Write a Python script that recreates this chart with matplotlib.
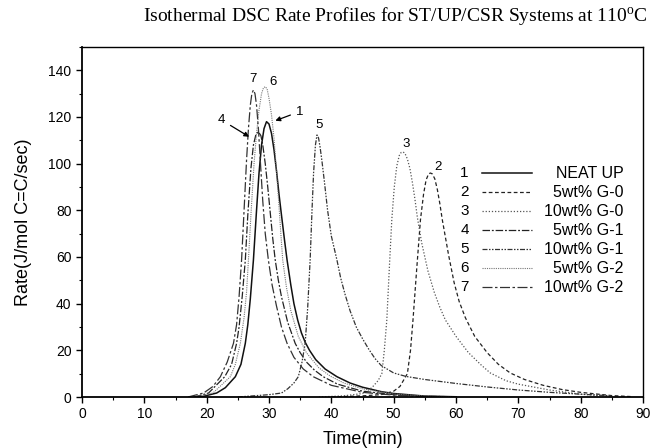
import numpy as np
import matplotlib.pyplot as plt

plt.rcParams['mathtext.fontset'] = 'custom'
plt.rcParams['mathtext.rm'] = 'Liberation Serif'

# isothermal DSC rate profiles, time (min) vs rate (J/mol C=C/sec)
t1 = [18, 19.5, 21.6, 23, 24.6, 25.5, 26.2, 26.6, 27.0, 27.5, 28.0, 28.4, 28.8, 29.2, 29.6, 30.0, 30.4, 30.8, 31.2, 31.6, 32.0, 32.5, 32.9, 33.5, 34.0, 34.6, 35.2, 35.8, 36.5, 37.5, 39, 40.9, 43, 45, 48, 50, 55, 60]
r1 = [0, 0.3, 1.7, 4, 8.7, 14, 23, 31, 42, 58.7, 80, 96, 108, 115, 118, 117, 113, 106, 97, 87, 78, 67, 58.7, 48, 40, 33, 27.5, 23.5, 20, 16, 12, 8.7, 6, 4.2, 2.3, 1.5, 0.4, 0.1]

t2 = [40, 45, 48, 50, 51, 52.2, 52.7, 53.1, 53.7, 54.3, 54.8, 55.2, 55.6, 55.9, 56.2, 56.6, 57.0, 57.4, 57.8, 58.8, 59.7, 60.5, 61.5, 63, 65, 66.8, 68.7, 71, 74, 77, 80, 85, 88]
r2 = [0, 0.5, 1, 2.5, 4.5, 10, 20, 33, 55, 76, 87, 93, 95.6, 96, 95.6, 93.5, 89, 83, 76, 61, 49, 41, 34, 26, 19, 14, 10.3, 7.5, 5, 3.2, 2, 0.6, 0.2]

t3 = [38, 42, 45, 46.5, 47.5, 48.1, 48.5, 48.9, 49.3, 49.7, 50.1, 50.5, 50.9, 51.2, 51.5, 51.8, 52.2, 52.6, 53.0, 53.4, 53.8, 54.5, 55.5, 56.5, 57.4, 58.3, 60, 62, 64, 65.5, 68, 70, 75, 80, 85]
r3 = [0, 0.5, 1.5, 4, 7, 10, 20, 33, 55, 76, 90, 99, 103.5, 104.8, 105, 104.5, 102, 98, 92, 85, 77, 66, 54, 45, 38.5, 33, 26, 19, 13.8, 10.3, 7, 5.5, 3, 1.2, 0.3]

t4 = [18, 20.3, 22.9, 24, 24.8, 25.2, 25.7, 26.2, 26.6, 27.1, 27.5, 27.9, 28.3, 28.7, 29.0, 29.4, 29.8, 30.2, 30.6, 31.0, 31.5, 32, 33, 34.2, 35, 36, 37.3, 38.7, 41, 45, 50, 55, 60]
r4 = [0, 1.7, 8.7, 14, 23, 30, 43, 58.7, 78, 98, 108, 112.5, 113.7, 112, 108, 100, 90, 79, 68, 58.7, 50, 43, 32, 23, 19, 15, 11.5, 8.7, 5.5, 2.5, 1, 0.3, 0.1]

t5 = [25, 30, 32, 33, 34, 34.7, 35.3, 35.8, 36.2, 36.6, 36.9, 37.15, 37.45, 37.7, 37.95, 38.2, 38.5, 38.9, 39.4, 40.0, 40.9, 41.5, 42.2, 43, 44, 45, 46, 47, 48, 50, 52, 55, 60, 65, 70, 75, 80, 85]
r5 = [0, 1, 1.7, 3.5, 6, 8.7, 15, 23, 38, 58.7, 80, 96, 108, 112.3, 111, 107, 101, 92, 80, 69, 58.7, 51, 44, 37, 30, 25, 20.5, 16.5, 13.5, 10.3, 8.8, 7.5, 5.8, 4.3, 3, 2, 1.2, 0.5]

t6 = [18, 21, 23.8, 24.6, 25.4, 26.0, 26.4, 26.7, 27.1, 27.6, 28.0, 28.4, 28.8, 29.1, 29.4, 29.7, 30.0, 30.4, 30.8, 31.2, 31.6, 31.9, 32.2, 32.8, 33.5, 34.7, 36, 38, 39.8, 42, 45, 50, 55, 60]
r6 = [0, 1.7, 8.7, 14, 23, 34, 45, 58.7, 78, 100, 113, 123, 130, 132.4, 133, 132, 128, 121, 111, 97, 82, 70, 58.7, 47, 37, 26, 19, 12.5, 9, 6, 3.5, 1.3, 0.4, 0.1]

t7 = [17, 19.5, 21, 22.2, 23.3, 24.3, 24.8, 25.2, 25.6, 26.0, 26.4, 26.7, 27.0, 27.25, 27.5, 27.75, 28.0, 28.3, 28.6, 29.0, 29.4, 29.9, 30.5, 31.2, 32.0, 32.9, 34.0, 35.5, 37.1, 40, 45, 50, 55]
r7 = [0, 1.7, 4.5, 8.7, 15, 23, 31, 43, 58.7, 80, 101.6, 115, 125, 130, 131.6, 130, 125, 115, 101.6, 84, 70, 58.7, 48, 39, 30, 23, 17, 12, 8.7, 5, 2, 0.8, 0.2]

numbers = ['1', '2', '3', '4', '5', '6', '7']
labels = ['NEAT UP', '5wt% G-0', '10wt% G-0', '5wt% G-1', '10wt% G-1', '5wt% G-2', '10wt% G-2']

fontsize = 10
sans = 'Liberation Sans'

# line styles of the seven runs
styles = [
    dict(color='#111111', linestyle='-', linewidth=1.1),
    dict(color='#222222', linestyle=(0, (3.0, 2.0)), linewidth=0.9),
    dict(color='#555555', linestyle=(0, (1.0, 1.5)), linewidth=0.9),
    dict(color='#222222', linestyle=(0, (6.0, 1.5, 1.5, 1.5)), linewidth=0.9),
    dict(color='#333333', linestyle=(0, (4.0, 1.2, 1.2, 1.2, 1.2, 1.2)), linewidth=0.9),
    dict(color='#777777', linestyle=(0, (1.0, 1.0)), linewidth=0.8),
    dict(color='#333333', linestyle=(0, (8.0, 2.0, 2.0, 2.0)), linewidth=0.9),
]

curves = [(t1, r1), (t2, r2), (t3, r3), (t4, r4), (t5, r5), (t6, r6), (t7, r7)]

fig = plt.figure(figsize=(6.52, 4.48), dpi=100)
ax = fig.add_axes([82/652, 51/448, 561/652, 350/448])

for (t, r), st in zip(curves, styles):
    ax.plot(t, r, **st)

ax.set_xlim(0, 90)
ax.set_ylim(0, 150)
ax.set_xticks(np.arange(0, 91, 10))
ax.set_xticks(np.arange(0, 91, 5), minor=True)
ax.set_yticks(np.arange(0, 141, 20))
ax.set_yticks(np.arange(0, 151, 10), minor=True)
ax.tick_params(which='major', direction='out', length=4, width=1, labelsize=fontsize)
ax.tick_params(which='minor', direction='out', length=2.5, width=0.8)
for label in ax.get_xticklabels() + ax.get_yticklabels():
    label.set_family(sans)

ax.spines['left'].set_linewidth(1.3)
ax.spines['bottom'].set_linewidth(1.3)
ax.spines['top'].set_linewidth(1.0)
ax.spines['right'].set_linewidth(1.0)

ax.set_xlabel('Time(min)', family=sans, fontsize=13, labelpad=7)
ax.set_ylabel('Rate(J/mol C=C/sec)', family=sans, fontsize=13, labelpad=12)

fig.text(0.607, 0.962, 'Isothermal DSC Rate Profiles for ST/UP/CSR Systems at 110$^{\\rm o}$C',
         family='Liberation Serif', fontsize=14, ha='center', va='center')

# curve numbers next to the peaks
ax.text(27.4, 133.5, '7', family=sans, fontsize=9.5, ha='center', va='bottom')
ax.text(30.6, 132.5, '6', family=sans, fontsize=9.5, ha='center', va='bottom')
ax.text(38.1, 114, '5', family=sans, fontsize=9.5, ha='center', va='bottom')
ax.text(52.0, 106, '3', family=sans, fontsize=9.5, ha='center', va='bottom')
ax.text(57.1, 96, '2', family=sans, fontsize=9.5, ha='center', va='bottom')
ax.annotate('4', xy=(27.2, 110.9), xytext=(22.4, 118.7), family=sans, fontsize=9.5,
            ha='center', va='center',
            arrowprops=dict(arrowstyle='-|>', color='black', lw=0.9, mutation_scale=7))
ax.annotate('1', xy=(30.6, 118), xytext=(34.9, 122.3), family=sans, fontsize=9.5,
            ha='center', va='center',
            arrowprops=dict(arrowstyle='-|>', color='black', lw=0.9, mutation_scale=7))

# legend drawn as numbered rows
row0 = 0.64
step = 0.0543
for i, (num, lab, st) in enumerate(zip(numbers, labels, styles)):
    y = row0 - i * step
    ax.text(0.682, y, num, transform=ax.transAxes, family=sans, fontsize=11,
            ha='center', va='center')
    ax.plot([0.713, 0.802], [y, y], transform=ax.transAxes, **st)
    ax.text(0.965, y, lab, transform=ax.transAxes, family=sans, fontsize=11.5,
            ha='right', va='center')

fig.savefig('out.png', dpi=100)
